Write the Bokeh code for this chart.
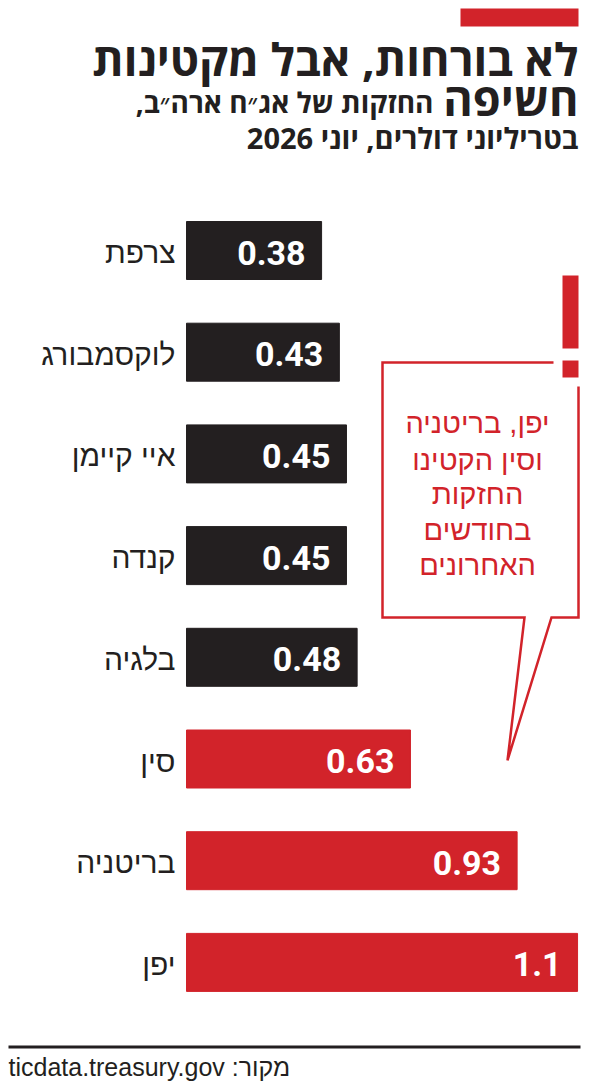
from bokeh.plotting import figure
from bokeh.models import Range1d, ColumnDataSource
from bokeh.core.properties import value
from bokeh.embed import file_html
from bokeh.resources import INLINE

# ---- data ----
countries = ["צרפת", "לוקסמבורג", "איי קיימן", "קנדה", "בלגיה", "סין", "בריטניה", "יפן"]
holdings = [0.38, 0.43, 0.45, 0.45, 0.48, 0.63, 0.93, 1.1]
value_labels = ["0.38", "0.43", "0.45", "0.45", "0.48", "0.63", "0.93", "1.1"]
highlight = [False, False, False, False, False, True, True, True]

title_line1 = "לא בורחות, אבל מקטינות"
title_line2 = "חשיפה"
subtitle_line1 = "החזקות של אג״ח ארה״ב,\u200F"
subtitle_line2 = "בטריליוני דולרים, יוני 2026"
callout_lines = ["יפן, בריטניה", "וסין הקטינו", "החזקות", "בחודשים", "האחרונים"]
source_text = "\u202Bמקור: ticdata.treasury.gov\u202C"

BLACK = "#231f20"
RED = "#d2232a"

# ---- layout helpers (page pixels -> data space) ----
W, H = 592, 1084
X0, K = 186.0, 355.5          # bar zero position and px per trillion
ROW0, PITCH = 250.0, 101.7    # first bar center and spacing


def px(xp):
    return (xp - X0) / K


def py(yp):
    return -(yp - ROW0) / PITCH


p = figure(width=W, height=H, output_backend="svg", toolbar_location=None,
           x_range=Range1d(px(0), px(W)), y_range=Range1d(py(H), py(0)),
           min_border=0)
p.axis.visible = False
p.grid.visible = False
p.outline_line_color = None
p.background_fill_color = "white"
p.border_fill_color = "white"

rows = [-i for i in range(len(countries))]
colors = [RED if h else BLACK for h in highlight]
src = ColumnDataSource(dict(y=rows, v=holdings, c=colors, name=countries, lab=value_labels))

p.hbar(y="y", left=0, right="v", height=58 / PITCH, color="c", source=src)

# value labels inside bars
p.text(x="v", y="y", text="lab", source=src, x_offset=-16, y_offset=2,
       text_align="right", text_baseline="middle", text_color="white",
       text_font=value("Roboto"), text_font_style="bold", text_font_size="34px")

# country labels
p.text(x=px(175), y="y", text="name", source=src, y_offset=2,
       text_align="right", text_baseline="middle", text_color=BLACK,
       text_font=value("Liberation Sans"), text_font_size="30px")

# ---- header ----
p.quad(left=[px(460)], right=[px(578)], top=[py(8)], bottom=[py(26)], color=RED, line_color=None)


def head(x, y, t, size, align="right"):
    p.text(x=[px(x)], y=[py(y)], text=[t], text_align=align, text_baseline="middle",
           text_color=BLACK, text_font=value("Open Sans"), text_font_style="bold",
           text_font_size=size)


head(578, 58, title_line1, "45px")
head(578, 98, title_line2, "45px")
head(433, 101, subtitle_line1, "28px")
head(578, 137, subtitle_line2, "29px")

# ---- callout bubble ----
bx = [553, 382, 382, 524, 507, 551, 578, 578]
by = [362, 362, 617, 617, 760, 617, 617, 386]
p.line(x=[px(v) for v in bx], y=[py(v) for v in by], line_color=RED, line_width=2.5,
       line_join="miter")
# exclamation mark
p.quad(left=[px(562), px(562)], right=[px(578), px(578)], top=[py(275), py(360)],
       bottom=[py(348), py(377)], color=RED, line_color=None)
centers = [422.5, 459, 493.5, 529, 564]
for t, cy in zip(callout_lines, centers):
    p.text(x=[px(477)], y=[py(cy)], text=[t], text_align="center",
           text_baseline="middle", text_color=RED, text_font=value("Liberation Sans"),
           text_font_size="29px")

# ---- footer ----
p.quad(left=[px(8)], right=[px(580)], top=[py(1045)], bottom=[py(1048)], color=BLACK, line_color=None)
p.text(x=[px(8)], y=[py(1066)], text=[source_text], text_align="left", text_baseline="middle",
       text_color=BLACK, text_font=value("Liberation Sans"), text_font_size="25px")

open("out.html", "w").write(file_html(p, INLINE))
